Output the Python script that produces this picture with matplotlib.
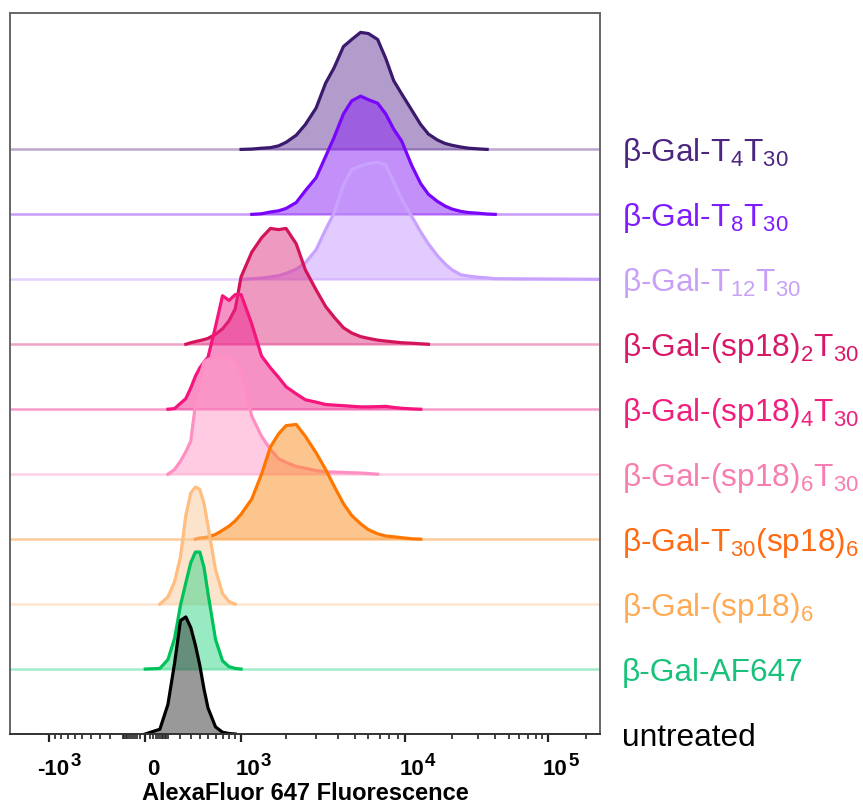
import numpy as np
import matplotlib
matplotlib.use('Agg')
import matplotlib.pyplot as plt
import matplotlib.transforms as mtransforms

plt.rcParams['font.family'] = ['Liberation Sans', 'DejaVu Sans']
plt.rcParams['mathtext.fontset'] = 'custom'
plt.rcParams['mathtext.rm'] = 'Liberation Sans'
plt.rcParams['mathtext.default'] = 'regular'

# fluorescence values (AlexaFluor 647) at which the histograms are read
fluor = [0, 50, 100, 150, 200, 250, 300, 350, 400, 450, 500, 600, 700, 800,
         900, 1000, 1200, 1400, 1600, 1800, 2000, 2300, 2600, 3000, 3400,
         3800, 4300, 4800, 5400, 6000, 6800, 7600, 8500, 9500, 11000, 12500,
         14000, 16000, 18000, 20000, 23000, 26000, 30000, 35000, 40000]

# counts normalised to mode (%), one list per sample
t4t30 = [0, 0, 0, 0, 0, 0, 0, 0, 0, 0, 0, 0, 0, 0, 0, 0, 0.3, 1, 1.5, 3, 6,
         12, 21, 35, 56, 69, 87, 93, 99, 98, 93, 77, 58, 47, 33, 21, 13, 8,
         5, 3.5, 2, 1, 0.5, 0, 0]
t8t30 = [0, 0, 0, 0, 0, 0, 0, 0, 0, 0, 0, 0, 0, 0, 0, 0, 0, 0.5, 2, 3, 5,
         10, 20, 31, 49, 65, 85, 96, 100, 97, 94, 85, 72, 62, 41, 26, 17, 11,
         7, 4.5, 2.5, 1.5, 1, 0.3, 0]
t12t30 = [0, 0, 0, 0, 0, 0, 0, 0, 0, 0, 0, 0, 0, 0, 0, 0, 0.5, 1, 2, 3, 5,
          8.5, 14, 25, 42, 56, 80, 93, 96, 98, 99, 97, 82, 68, 53, 40, 30,
          20, 13, 8, 3.8, 2.7, 1.8, 1.2, 0.5]
sp2t30 = [0, 0, 0, 0, 0, 0, 1.3, 2.3, 3.1, 4, 5, 8.5, 13, 20, 30, 57, 78, 90,
          98, 97, 98, 85, 63, 46, 32, 23, 14, 9.5, 6.5, 5, 3.5, 2.7, 2, 1.3,
          0.9, 0.4, 0, 0, 0, 0, 0, 0, 0, 0, 0]
sp4t30 = [0, 0, 0, 0.6, 5, 9, 18, 28, 35, 40, 44, 70, 96, 92, 97, 97, 72, 45,
          35, 27, 19, 13, 8, 6, 4, 3.5, 3, 2.5, 2, 2, 2.2, 2.4, 1.5, 0.8, 0.3,
          0, 0, 0, 0, 0, 0, 0, 0, 0, 0]
sp6t30 = [0, 0, 0, 4, 11, 19, 28, 59, 82, 95, 97, 99, 100, 98, 96, 87, 49,
          32, 21, 13, 10, 6.5, 5, 3, 2, 1.8, 1.5, 1.2, 1, 0.5, 0, 0, 0, 0, 0,
          0, 0, 0, 0, 0, 0, 0, 0, 0, 0]
t30sp6 = [0, 0, 0, 0, 0, 0, 0, 0, 1, 1.3, 1.8, 4, 7.5, 11, 15.5, 21, 34, 55,
          78, 89, 96, 97, 87, 73, 59, 45, 30, 20, 13, 8, 4.5, 2.7, 2, 1.2,
          0.3, 0, 0, 0, 0, 0, 0, 0, 0, 0, 0]
sp6 = [0, 0, 6, 19, 40, 75, 94, 99, 97, 85, 66, 29, 9, 2, 0, 0, 0, 0, 0, 0,
       0, 0, 0, 0, 0, 0, 0, 0, 0, 0, 0, 0, 0, 0, 0, 0, 0, 0, 0, 0, 0, 0, 0,
       0, 0]
af647 = [0, 0.5, 8, 26, 54, 73, 90, 99, 99, 86, 64, 25, 7, 2, 0.5, 0, 0, 0,
         0, 0, 0, 0, 0, 0, 0, 0, 0, 0, 0, 0, 0, 0, 0, 0, 0, 0, 0, 0, 0, 0, 0,
         0, 0, 0, 0]
untreated = [0, 4, 25, 60, 96, 99, 90, 75, 58, 38, 22, 6, 1.5, 0.4, 0, 0, 0,
             0, 0, 0, 0, 0, 0, 0, 0, 0, 0, 0, 0, 0, 0, 0, 0, 0, 0, 0, 0, 0, 0,
             0, 0, 0, 0, 0, 0]

labels = [r'β-Gal-T$_{4}$T$_{30}$', r'β-Gal-T$_{8}$T$_{30}$',
          r'β-Gal-T$_{12}$T$_{30}$', r'β-Gal-(sp18)$_{2}$T$_{30}$',
          r'β-Gal-(sp18)$_{4}$T$_{30}$', r'β-Gal-(sp18)$_{6}$T$_{30}$',
          r'β-Gal-T$_{30}$(sp18)$_{6}$', r'β-Gal-(sp18)$_{6}$',
          'β-Gal-AF647', 'untreated']
series = [t4t30, t8t30, t12t30, sp2t30, sp4t30, sp6t30, t30sp6, sp6, af647,
          untreated]

line_colors = ['#3b1a6e', '#7a05fb', '#c9a2ff', '#d4145a', '#f5157d',
               '#ff8fc2', '#ff7700', '#ffbe80', '#00c25a', '#000000']
fill_colors = ['#673b99', '#8921f3', '#c799ff', '#df3583', '#ef258d',
               '#ff99c9', '#fb8d1f', '#fbc99b', '#33d789', '#353535']
text_colors = ['#4b2580', '#7f1cff', '#c9a0f8', '#d8196a', '#f0207f',
               '#f77eb0', '#ff6a13', '#ffaa55', '#19c27a', '#000000']

# axis ticks: value, base text, exponent
major = [-1e3, 0, 1e3, 1e4, 1e5]
major_base = ['-10', '0', '10', '10', '10']
major_exp = ['3', '', '3', '4', '5']

XMIN, XMAX = -1850, 262144
W, P = 2000.0, 0.636
ROW_PEAK = 1.82


def biex_fwd(x):
    u = np.arcsinh(np.asarray(x, dtype=float) / W)
    return np.sign(u) * np.abs(u) ** P


def biex_inv(y):
    y = np.asarray(y, dtype=float)
    return W * np.sinh(np.sign(y) * np.abs(y) ** (1.0 / P))


fig = plt.figure(figsize=(8.63, 8.05), dpi=100)
ax = fig.add_axes([10 / 863, 71 / 805, 590 / 863, 721 / 805])
ax.set_xscale('function', functions=(biex_fwd, biex_inv))
ax.set_xlim(XMIN, XMAX)
ax.set_ylim(0, 11.1)

xs = np.concatenate([[XMIN], fluor, [XMAX]])
n = len(series)
label_tr = mtransforms.blended_transform_factory(ax.transAxes, ax.transData)
for i, (vals, lab) in enumerate(zip(series, labels)):
    offset = n - 1 - i
    h = np.concatenate([[0], vals, [0]]) / 100.0 * ROW_PEAK
    ax.axhline(offset, color=fill_colors[i], lw=1.8, alpha=0.45,
               zorder=2 + i)
    ax.fill_between(xs, offset, offset + h, color=fill_colors[i],
                    alpha=0.5, lw=0, zorder=2 + i)
    nz = np.nonzero(h)[0]
    lo, hi = max(nz[0] - 1, 0), min(nz[-1] + 1, len(h) - 1)
    ax.plot(xs[lo:hi + 1], offset + h[lo:hi + 1], color=line_colors[i],
            lw=2.3, zorder=2.5 + i, solid_joinstyle='round')
    ax.text(1.037, offset - 0.185, lab, color=text_colors[i], fontsize=22.8,
            va='baseline', ha='left', transform=label_tr)

minor = [-m * 100 for m in range(2, 10)] + [m * 100 for m in range(1, 10)]
minor += [-m * 10 for m in range(1, 11)] + [m * 10 for m in range(1, 10)]
minor += [m * 1e3 for m in range(2, 10)] + [m * 1e4 for m in range(2, 10)]
minor += [2e5]
ax.set_xticks(major)
ax.set_xticklabels([])
ax.set_xticks(minor, minor=True)
ax.tick_params(axis='x', which='major', length=6, width=1.6,
               color='#222222')
ax.tick_params(axis='x', which='minor', length=3.5, width=1.2,
               color='#222222')
ax.set_yticks([])

# FlowJo style decade labels: big base, raised exponent
for val, base, ex in zip(major, major_base, major_exp):
    if base == '0':
        dx = 1.5
    elif base.startswith('-'):
        dx = -8.5
    else:
        dx = -4.0
    t = ax.annotate(base, xy=(val, 0), xycoords=('data', 'axes fraction'),
                    xytext=(dx, -18.0), textcoords='offset points',
                    ha='left', va='top', fontsize=16, fontweight='bold')
    if ex:
        ax.annotate(ex, xy=(1, 1), xycoords=t, xytext=(0.5, 4.0),
                    textcoords='offset points', ha='left', va='top',
                    fontsize=13.5, fontweight='bold')

ax.set_xlabel('AlexaFluor 647 Fluorescence', fontsize=17, fontweight='bold',
              labelpad=25)
for s in ax.spines.values():
    s.set_color('#666666')
    s.set_linewidth(1.4)
    s.set_zorder(20)
ax.spines['bottom'].set_color('#333333')

fig.savefig('out.png', dpi=100)
